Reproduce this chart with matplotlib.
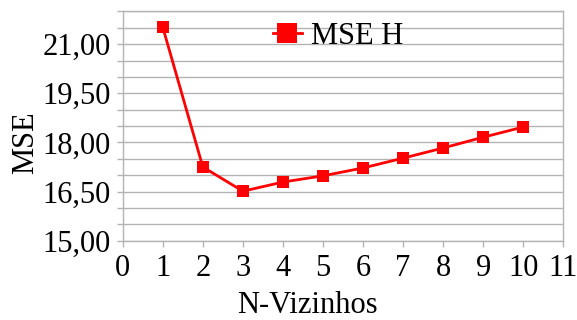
import numpy as np
import matplotlib
matplotlib.use("Agg")
import matplotlib.pyplot as plt
from matplotlib.ticker import MultipleLocator, FuncFormatter

# valores de MSE por numero de vizinhos
vizinhos = [1, 2, 3, 4, 5, 6, 7, 8, 9, 10]
mse_h = [21.52, 17.25, 16.51, 16.79, 16.98, 17.22, 17.52, 17.83, 18.16, 18.47]

plt.rcParams["font.family"] = ["Liberation Serif", "DejaVu Serif"]
grid_cor = "#b3b3b3"

fig = plt.figure(figsize=(5.77, 3.2), dpi=100)
ax = fig.add_axes([0.2127, 0.248, 0.7636, 0.7161])

ax.plot(vizinhos, mse_h, "-s", color="#ff0000", lw=2.0, ms=8.2,
        markeredgewidth=0, label="MSE H")

ax.set_xlim(0, 11)
ax.set_ylim(15, 22)
ax.xaxis.set_major_locator(MultipleLocator(1))
ax.yaxis.set_major_locator(MultipleLocator(1.5))
ax.yaxis.set_minor_locator(MultipleLocator(0.5))
ax.yaxis.set_major_formatter(FuncFormatter(lambda v, p: f"{v:.2f}".replace(".", ",")))

ax.grid(True, which="both", axis="y", color=grid_cor, lw=1.0)
ax.set_axisbelow(True)
for s in ax.spines.values():
    s.set_color(grid_cor)
    s.set_linewidth(1.0)

ax.tick_params(axis="both", which="both", color=grid_cor, length=4.5, width=1.0,
               labelsize=22, direction="out")
ax.tick_params(axis="y", pad=4)
ax.tick_params(axis="x", pad=5)

ax.set_ylabel("MSE", fontsize=22)
ax.set_xlabel("N-Vizinhos", fontsize=22)
ax.yaxis.set_label_coords(-0.22, 0.426)
ax.xaxis.set_label_coords(0.42, -0.285)
ax.xaxis.label.set_va("center")
ax.yaxis.label.set_va("center")

leg = ax.legend(loc="center", bbox_to_anchor=(338 / 577, 1 - 36 / 320),
                bbox_transform=fig.transFigure, frameon=False, fontsize=22,
                markerscale=1.8, handlelength=0.95, handletextpad=0.3)

plt.savefig("out.png", dpi=100)
